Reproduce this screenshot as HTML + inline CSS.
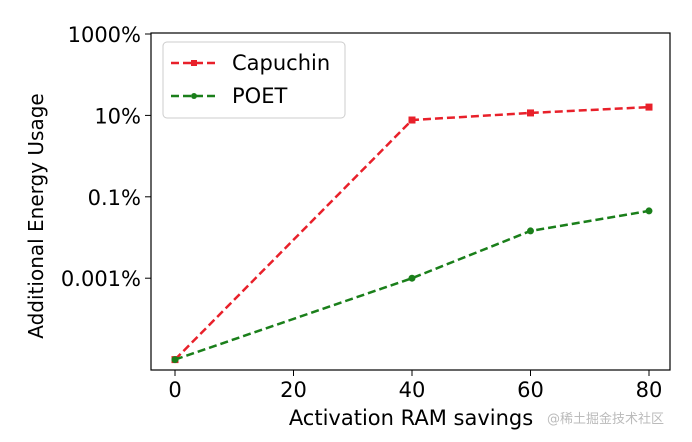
<!DOCTYPE html>
<html><head><meta charset="utf-8"><style>
body{margin:0;background:#fff;}
svg{display:block;font-family:"DejaVu Sans","Liberation Sans",sans-serif;}
</style></head><body>
<svg id="chart" width="692" height="442" viewBox="0 0 692 442">
<rect x="0" y="0" width="692" height="442" fill="#fff"/>
<g id="grid"></g>
<g id="series"></g>
<rect x="151" y="33" width="519" height="337" fill="none" stroke="#000" stroke-width="1.2"/>
<text x="43" y="216" font-size="20" text-anchor="middle" transform="rotate(-90 43 216)">Additional Energy Usage</text>
<text x="411" y="425" font-size="21" text-anchor="middle">Activation RAM savings</text>
<text x="547" y="423" font-size="13" fill="#bbb">@稀土掘金技术社区</text>
<g>
<rect x="163" y="42" width="182" height="76" rx="4" fill="#fff" stroke="#ccc"/>
<line x1="171" y1="63" x2="217" y2="63" stroke="#e8202a" stroke-width="2.5" stroke-dasharray="8,4"/>
<rect x="191" y="60" width="6" height="6" fill="#e8202a"/>
<text x="232" y="70" font-size="21">Capuchin</text>
<line x1="171" y1="96" x2="217" y2="96" stroke="#1a7f1a" stroke-width="2.5" stroke-dasharray="8,4"/>
<circle cx="194" cy="96" r="3" fill="#1a7f1a"/>
<text x="232" y="103" font-size="21">POET</text>
</g>
</svg>
<script>
const xCats=[0,20,40,60,80];
const capuchin=[0.00001,7.7,11.5,16];
const poet=[0.00001,0.001,0.0145,0.045];
const xVals=[0,40,60,80];
const yTickVals=[1000,10,0.1,0.001];
const yTickLabels=["1000%","10%","0.1%","0.001%"];
const NS="http://www.w3.org/2000/svg";
function X(v){return 175+(v-0)*(649-175)/80;}
function Y(v){return 34+(3-Math.log10(v))*40.7;}
const g=document.getElementById('grid');
function mk(t,a,p){const e=document.createElementNS(NS,t);for(const k in a)e.setAttribute(k,a[k]);(p||g).appendChild(e);return e;}
xCats.forEach(v=>{
 mk('line',{x1:X(v),x2:X(v),y1:370,y2:376,stroke:'#000'});
 const t=mk('text',{x:X(v),y:397,'font-size':21,'text-anchor':'middle'});
 t.textContent=v;
 
 
});
yTickVals.forEach((v,i)=>{
 mk('line',{x1:145,x2:151,y1:Y(v),y2:Y(v),stroke:'#000'});
 const t=mk('text',{x:141,y:Y(v)+8,'font-size':21,'text-anchor':'end'});
 t.textContent=yTickLabels[i];
 
 
});
const s=document.getElementById('series');
function draw(vals,color,name,sq){
 const pts=xVals.map((x,i)=>X(x)+','+Y(vals[i])).join(' ');
 const pl=mk('polyline',{points:pts,fill:'none',stroke:color,'stroke-width':2.5,'stroke-dasharray':'8,4'},s);
 
 
 xVals.forEach((x,i)=>{
  const m=sq?mk('rect',{x:X(x)-3.5,y:Y(vals[i])-3.5,width:7,height:7,fill:color},s):mk('circle',{cx:X(x),cy:Y(vals[i]),r:3.5,fill:color},s);
  
  
 });
}
draw(capuchin,'#e8202a','capuchin',true);
draw(poet,'#1a7f1a','poet',false);
</script>
</body></html>
